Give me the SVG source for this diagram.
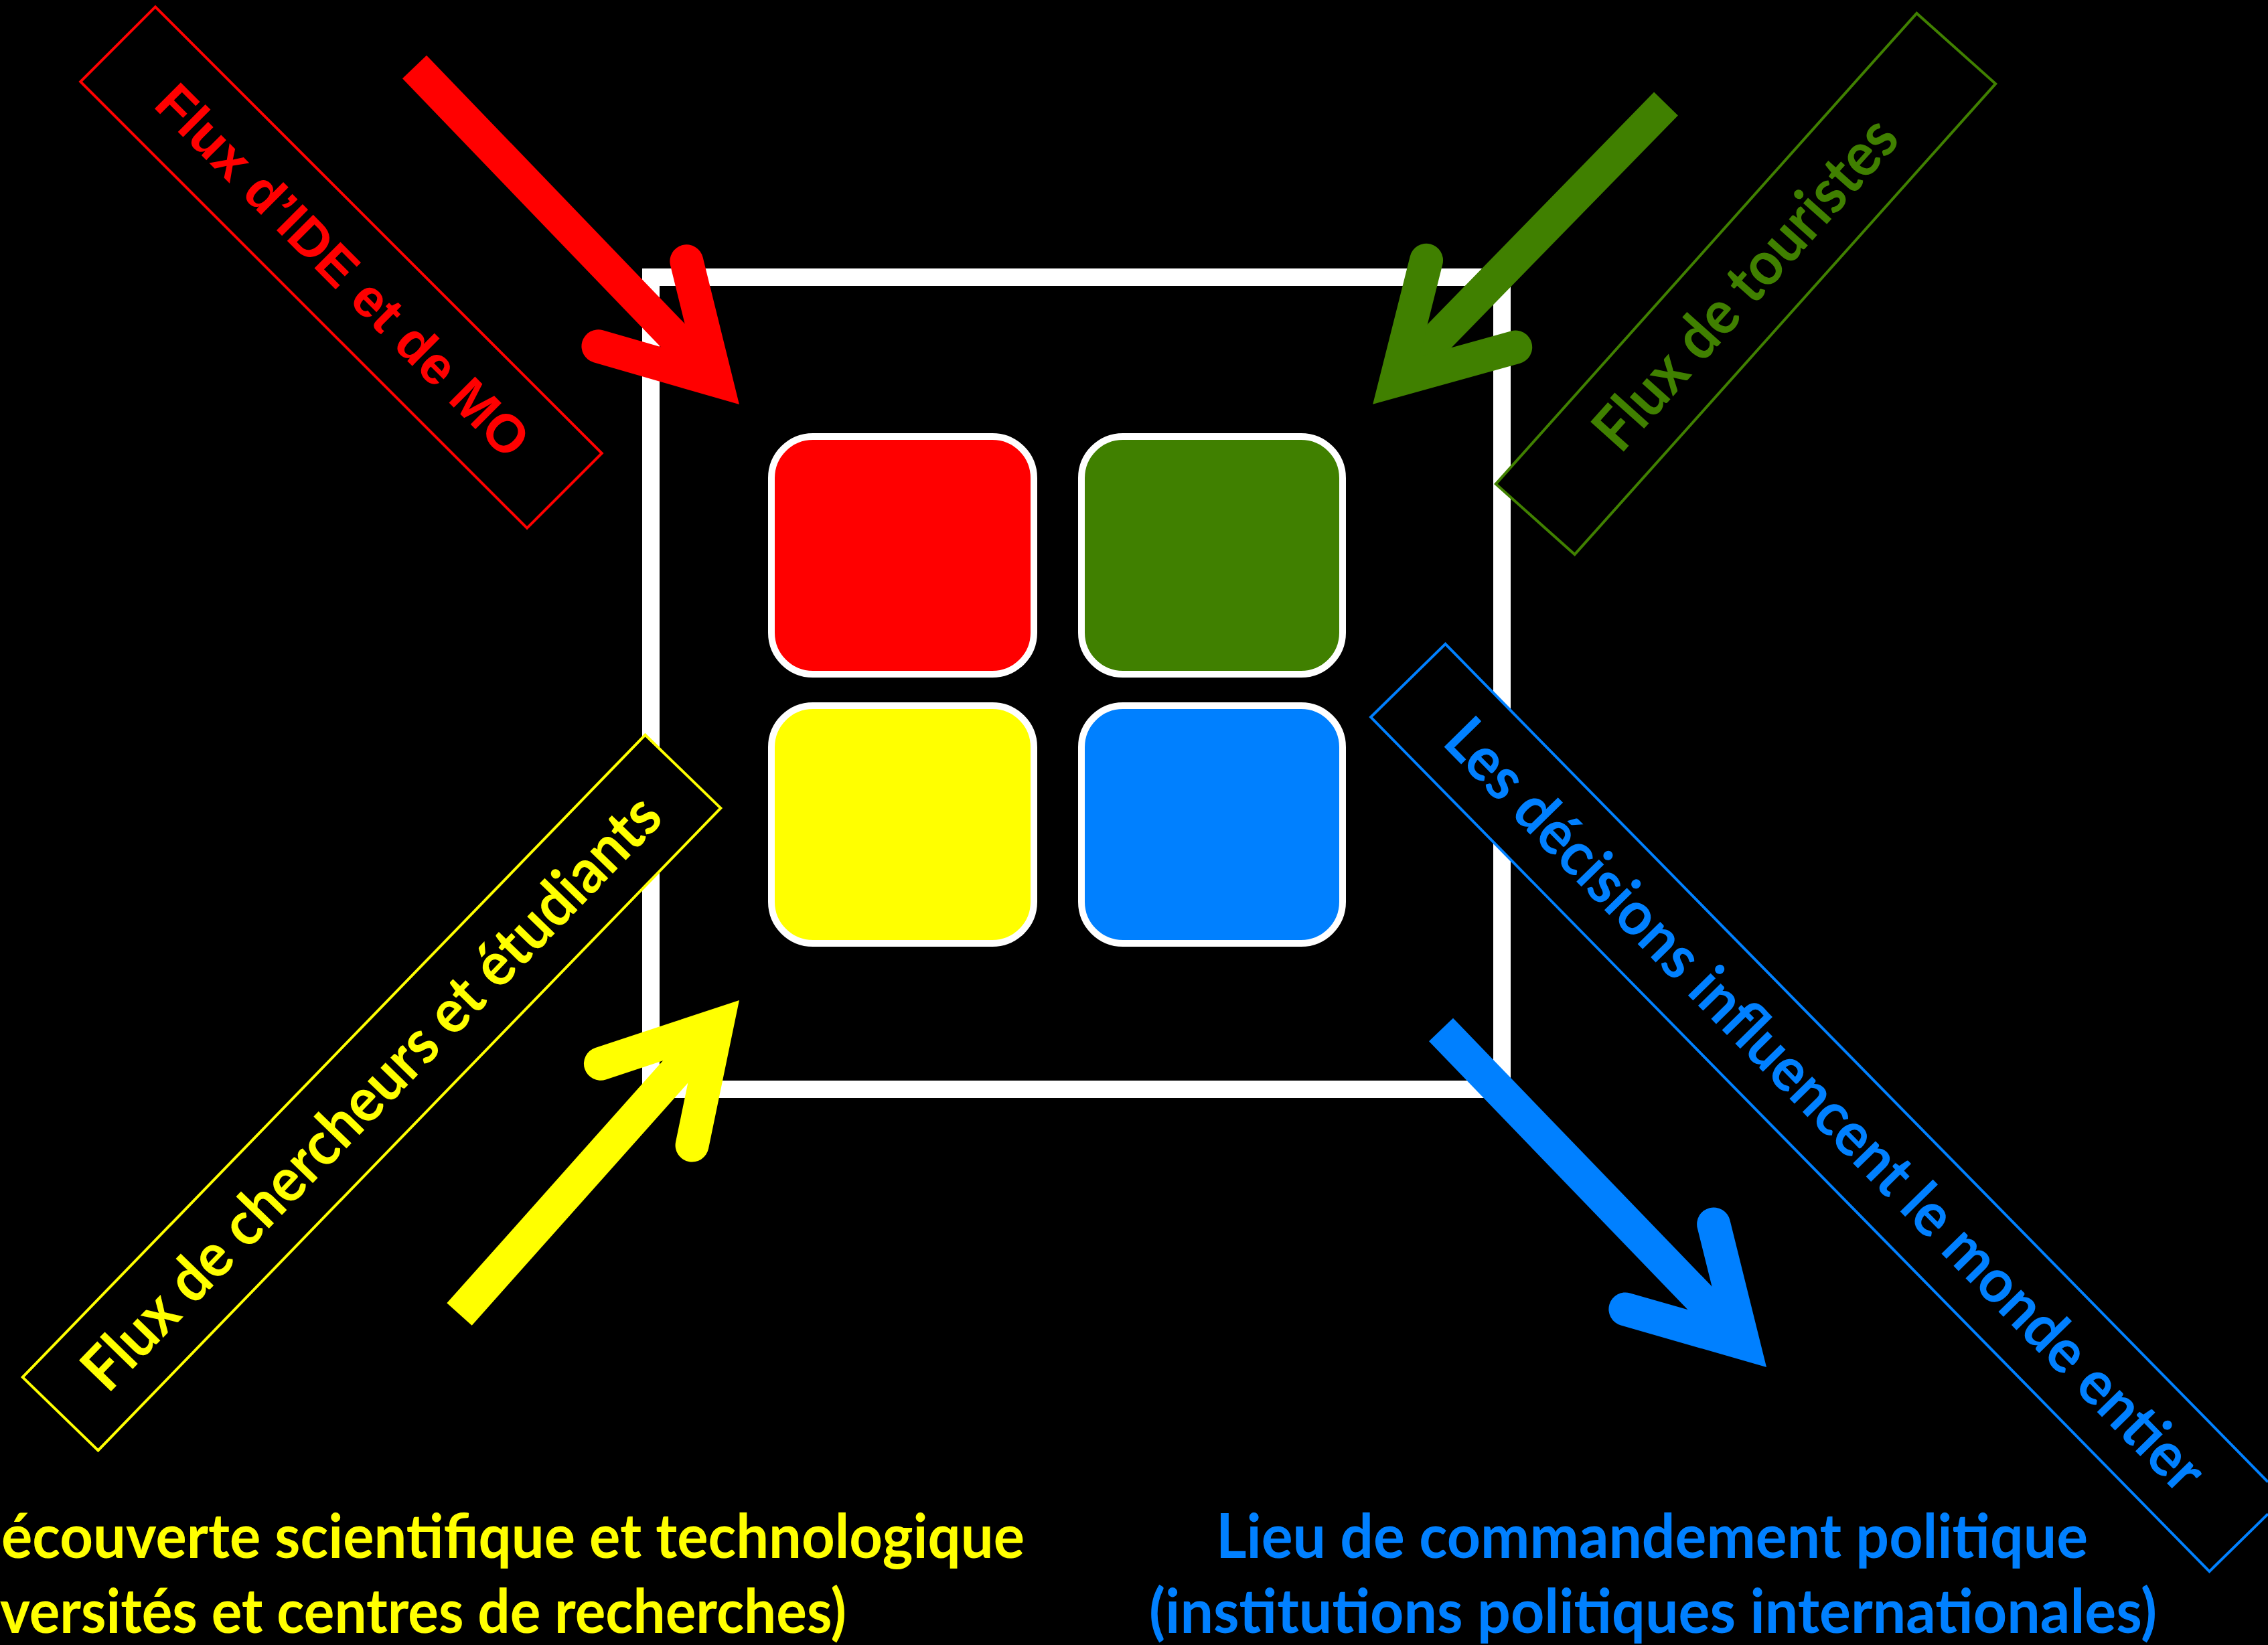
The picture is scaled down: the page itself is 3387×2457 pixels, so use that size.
<svg xmlns="http://www.w3.org/2000/svg" width="3387" height="2457" viewBox="0 0 3387 2457">
  <style>
    .lbl { font-family: Lato, "Open Sans", "Noto Sans", sans-serif; font-weight: bold; font-size: 92px; text-anchor: middle; }
    .lblA { font-family: "Liberation Sans", Arial, sans-serif; font-weight: bold; font-size: 80px; text-anchor: middle; }
    .cap { font-family: Lato, "Open Sans", "Noto Sans", sans-serif; font-weight: bold; font-size: 92px; }
    .tile { stroke: #ffffff; stroke-width: 10; }
    .box { fill: #000000; stroke-width: 4; }
    .shaft { fill: none; stroke-width: 50; stroke-linecap: butt; }
  </style>
  <defs>
    <marker id="hR" markerUnits="userSpaceOnUse" viewBox="-200 -130 280 260" markerWidth="280" markerHeight="260" refX="0" refY="0" orient="auto" overflow="visible">
      <path d="M-158.5,-91.5 L0,0 L-158.5,91.5" fill="none" stroke="#ff0000" stroke-width="50" stroke-linecap="round" stroke-linejoin="miter"/>
    </marker>
    <marker id="hG" markerUnits="userSpaceOnUse" viewBox="-200 -130 280 260" markerWidth="280" markerHeight="260" refX="0" refY="0" orient="auto" overflow="visible">
      <path d="M-160,-93 L0,0 L-160,93" fill="none" stroke="#408000" stroke-width="50" stroke-linecap="round" stroke-linejoin="miter"/>
    </marker>
    <marker id="hY" markerUnits="userSpaceOnUse" viewBox="-200 -130 280 260" markerWidth="280" markerHeight="260" refX="0" refY="0" orient="auto" overflow="visible">
      <path d="M-158.5,-91.5 L0,0 L-158.5,91.5" fill="none" stroke="#ffff00" stroke-width="50" stroke-linecap="round" stroke-linejoin="miter"/>
    </marker>
    <marker id="hB" markerUnits="userSpaceOnUse" viewBox="-200 -130 280 260" markerWidth="280" markerHeight="260" refX="0" refY="0" orient="auto" overflow="visible">
      <path d="M-158.5,-91.5 L0,0 L-158.5,91.5" fill="none" stroke="#0080ff" stroke-width="50" stroke-linecap="round" stroke-linejoin="miter"/>
    </marker>
  </defs>

  <rect x="0" y="0" width="3387" height="2457" fill="#000000"/>

  <g id="frame">
    <rect x="972" y="414" width="1271" height="1213" fill="none" stroke="#ffffff" stroke-width="26"/>
  </g>

  <g id="tile-red"><rect class="tile" x="1152" y="652" width="392" height="355" rx="62" fill="#ff0000"/></g>
  <g id="tile-green"><rect class="tile" x="1615" y="652" width="390" height="355" rx="62" fill="#408000"/></g>
  <g id="tile-yellow"><rect class="tile" x="1152" y="1054" width="392" height="355" rx="62" fill="#ffff00"/></g>
  <g id="tile-blue"><rect class="tile" x="1615" y="1054" width="390" height="355" rx="62" fill="#0080ff"/></g>

  <g id="label-ide" transform="translate(509.5,399.5) rotate(45)">
    <rect class="box" x="-471.5" y="-79" width="943" height="158" stroke="#ff0000"/>
    <text class="lblA" x="5" y="29" fill="#ff0000" textLength="750" lengthAdjust="spacingAndGlyphs">Flux d’IDE et de MO</text>
  </g>

  <g id="label-touristes" transform="translate(2607,424) rotate(-48.2)">
    <rect class="box" x="-471.5" y="-79" width="943" height="158" stroke="#408000"/>
    <text class="lbl" x="0" y="31" fill="#408000" textLength="630" lengthAdjust="spacingAndGlyphs">Flux de touristes</text>
  </g>

  <g id="label-chercheurs" transform="translate(555,1632) rotate(-45.9)">
    <rect class="box" x="-668" y="-78.5" width="1336" height="157" stroke="#ffff00"/>
    <text class="lbl" x="0" y="31" fill="#ffff00" textLength="1196" lengthAdjust="spacingAndGlyphs">Flux de chercheurs et étudiants</text>
  </g>

  <g id="label-decisions">
    <path d="M3387,2213.5 L2158.5,961.9 L2047.1,1071.1 L3299.5,2347.1 L3387,2261.3 Z" fill="#000000" stroke="none"/>
    <path d="M3387,2213.5 L2158.5,961.9 L2047.1,1071.1 L3299.5,2347.1 L3387,2261.3" fill="none" stroke="#0080ff" stroke-width="4"/>
    <text class="lbl" transform="translate(2729,1654.5) rotate(45.54)" x="-5" y="31" fill="#0080ff" textLength="1575" lengthAdjust="spacingAndGlyphs">Les décisions influencent le monde entier</text>
  </g>

  <g id="connectors">
    <line class="shaft" x1="619" y1="100" x2="1069.3" y2="568" stroke="#ff0000" marker-end="url(#hR)"/>
    <line class="shaft" x1="2488" y1="155" x2="2084.9" y2="568.2" stroke="#408000" marker-end="url(#hG)"/>
    <line class="shaft" x1="686" y1="1963" x2="1070.7" y2="1531.3" stroke="#ffff00" marker-end="url(#hY)"/>
    <line class="shaft" x1="2152" y1="1538" x2="2603.3" y2="2006" stroke="#0080ff" marker-end="url(#hB)"/>
  </g>

  <g id="caption-science">
    <text class="cap" x="2" y="2327" fill="#ffff00" textLength="1528" lengthAdjust="spacingAndGlyphs">écouverte scientifique et technologique</text>
    <text class="cap" x="0" y="2439" fill="#ffff00" textLength="1264" lengthAdjust="spacingAndGlyphs">versités et centres de recherches)</text>
  </g>

  <g id="caption-politique">
    <text class="cap" x="2467" y="2327" fill="#0080ff" text-anchor="middle" textLength="1302" lengthAdjust="spacingAndGlyphs">Lieu de commandement politique</text>
    <text class="cap" x="2468.5" y="2439" fill="#0080ff" text-anchor="middle" textLength="1505" lengthAdjust="spacingAndGlyphs">(institutions politiques internationales)</text>
  </g>
</svg>
